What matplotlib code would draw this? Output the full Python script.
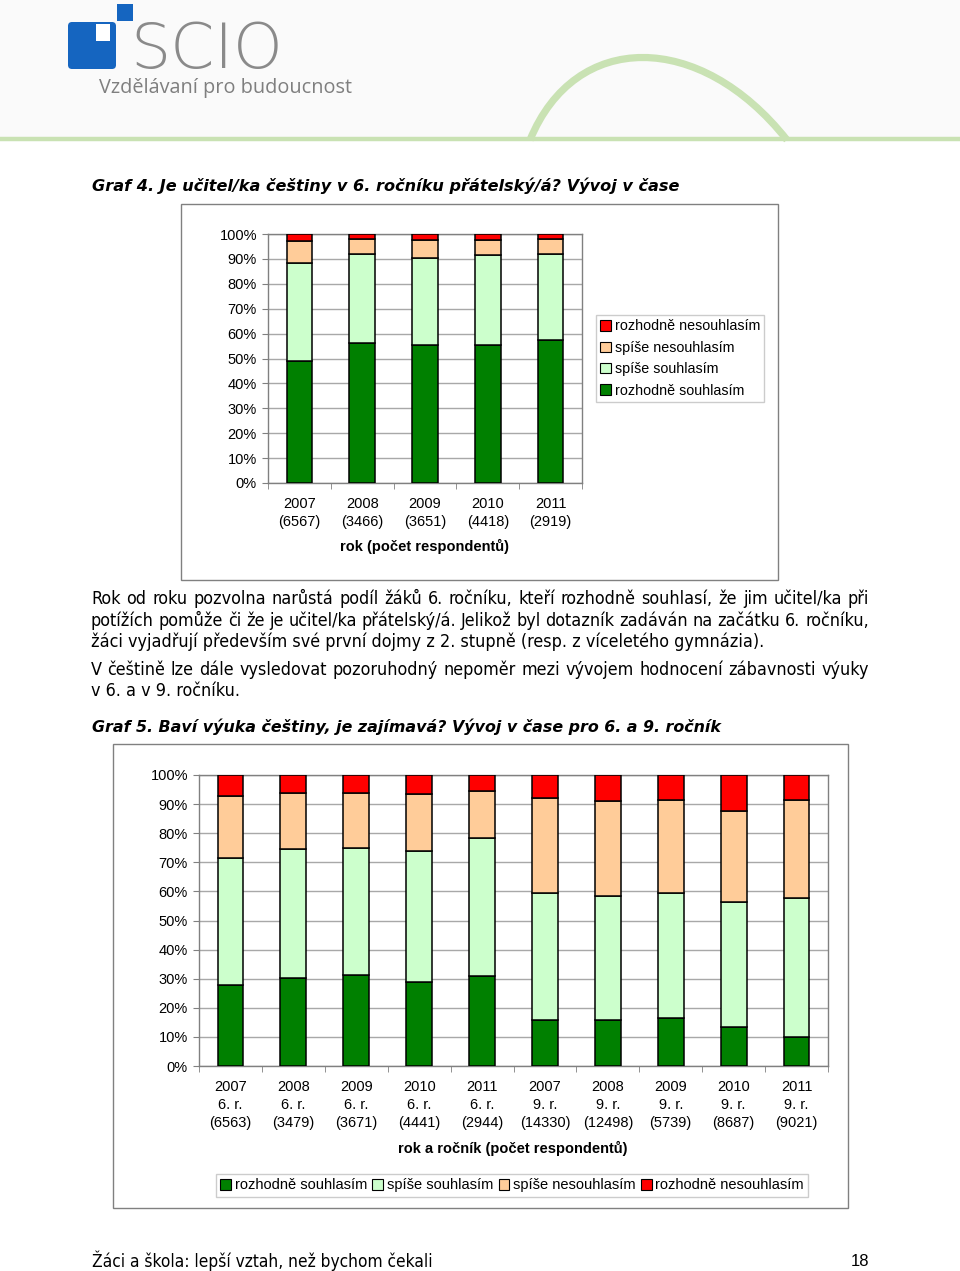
import matplotlib
matplotlib.use("Agg")
import matplotlib.pyplot as plt
from matplotlib.patches import Rectangle, FancyBboxPatch, PathPatch
from matplotlib.path import Path
import numpy as np

W, H = 960, 1271

# ---------------- data ----------------
series_names = ["rozhodně souhlasím", "spíše souhlasím", "spíše nesouhlasím", "rozhodně nesouhlasím"]
series_colors = ["#008000", "#ccffcc", "#ffcc99", "#ff0000"]

g4_years = ["2007", "2008", "2009", "2010", "2011"]
g4_counts = ["6567", "3466", "3651", "4418", "2919"]
g4_rozhodne_souhlasim = [48.9, 56.4, 55.4, 55.4, 57.6]
g4_spise_souhlasim = [39.3, 35.4, 35.1, 36.0, 34.2]
g4_spise_nesouhlasim = [9.1, 6.3, 7.2, 6.2, 6.1]
g4_rozhodne_nesouhlasim = [2.7, 1.9, 2.3, 2.4, 2.1]

g5_years = ["2007", "2008", "2009", "2010", "2011", "2007", "2008", "2009", "2010", "2011"]
g5_grades = ["6. r.", "6. r.", "6. r.", "6. r.", "6. r.", "9. r.", "9. r.", "9. r.", "9. r.", "9. r."]
g5_counts = ["6563", "3479", "3671", "4441", "2944", "14330", "12498", "5739", "8687", "9021"]
g5_rozhodne_souhlasim = [28.0, 30.4, 31.1, 28.7, 30.9, 15.8, 15.7, 16.4, 13.5, 10.0]
g5_spise_souhlasim = [43.6, 44.0, 43.8, 45.2, 47.6, 43.8, 42.6, 43.1, 43.0, 47.7]
g5_spise_nesouhlasim = [21.2, 19.5, 18.9, 19.6, 16.1, 32.4, 32.6, 31.8, 31.2, 33.7]
g5_rozhodne_nesouhlasim = [7.2, 6.1, 6.2, 6.5, 5.4, 8.0, 9.1, 8.7, 12.3, 8.6]

title4 = "Graf 4. Je učitel/ka češtiny v 6. ročníku přátelský/á? Vývoj v čase"
title5 = "Graf 5. Baví výuka češtiny, je zajímavá? Vývoj v čase pro 6. a 9. ročník"
xlabel4 = "rok (počet respondentů)"
xlabel5 = "rok a ročník (počet respondentů)"
para_lines = [
    ("Rok od roku pozvolna narůstá podíl žáků 6. ročníku, kteří rozhodně souhlasí, že jim učitel/ka při", True),
    ("potížích pomůže či že je učitel/ka přátelský/á. Jelikož byl dotazník zadáván na začátku 6. ročníku,", True),
    ("žáci vyjadřují především své první dojmy z 2. stupně (resp. z víceletého gymnázia).", False),
    ("V češtině lze dále vysledovat pozoruhodný nepoměr mezi vývojem hodnocení zábavnosti výuky", True),
    ("v 6. a v 9. ročníku.", False),
]
para_baseline = [604, 626, 647, 675, 696]
footer_text = "Žáci a škola: lepší vztah, než bychom čekali"
page_no = "18"

# ---------------- figure ----------------
fig = plt.figure(figsize=(W / 100, H / 100), dpi=100)
fig.patch.set_facecolor("white")
renderer = fig.canvas.get_renderer()

def fx(x):
    return x / W

def fy(y):
    return 1 - y / H

def rect(x0, y0, x1, y1):
    return [x0 / W, 1 - y1 / H, (x1 - x0) / W, (y1 - y0) / H]

def text_w(s, size, **kw):
    t = fig.text(0, 0, s, fontsize=size, **kw)
    w = t.get_window_extent(renderer).width
    t.remove()
    return w

def fit_text(x, y, s, target_w, size=12, ha="left", va="center", **kw):
    t = fig.text(fx(x), fy(y), s, fontsize=size, ha=ha, va=va, **kw)
    w = t.get_window_extent(renderer).width
    t.set_fontsize(size * target_w / w)
    return t

# background canvas for page decoration
bg = fig.add_axes([0, 0, 1, 1])
bg.set_xlim(0, W)
bg.set_ylim(H, 0)
bg.axis("off")
bg.add_patch(Rectangle((0, 0), W, 139, facecolor="#fafafa", edgecolor="none"))
# green line + arc
arc = Path([(530, 140), (575, 30), (700, 30), (787, 140)],
           [Path.MOVETO, Path.CURVE4, Path.CURVE4, Path.CURVE4])
bg.add_patch(PathPatch(arc, facecolor="none", edgecolor="#c9e2b3", lw=5.2))
bg.plot([0, W], [139, 139], color="#c9e2b3", lw=3.2, solid_capstyle="butt")
# logo
blue = "#1565c0"
bg.add_patch(FancyBboxPatch((68, 22), 48, 47, boxstyle="round,pad=0,rounding_size=4",
                            facecolor=blue, edgecolor="none"))
bg.add_patch(Rectangle((117, 4), 16, 17, facecolor=blue, edgecolor="none"))
bg.add_patch(Rectangle((96, 24), 14, 17, facecolor="white", edgecolor="none"))
fit_text(130, 51, "SCIO", 153, size=40, color="#8a8a8a", family="DejaVu Sans",
         fontweight="light")
fit_text(99, 88, "Vzdělávaní pro budoucnost", 254, size=14, color="#7f7f7f", family="Open Sans")

# titles
fit_text(92, 186, title4, 588, size=13, family="DejaVu Sans", fontweight="bold", style="italic")
fit_text(92, 727, title5, 629, size=13, family="DejaVu Sans", fontweight="bold", style="italic")

# paragraph with justification
para_font = dict(family="DejaVu Sans", color="black", fontstretch="condensed")
psize = 12 * 765 / text_w(para_lines[0][0], 12, **para_font)
X0, X1 = 91, 869
xw = text_w("x", psize, **para_font)
for (line, just), yy in zip(para_lines, para_baseline):
    if not just:
        fig.text(fx(X0), fy(yy), line, fontsize=psize, ha="left", va="baseline", **para_font)
        continue
    words = line.split(" ")
    natural = text_w(line, psize, **para_font)
    extra = (X1 - X0 - natural) / (len(words) - 1)
    for i, wd in enumerate(words):
        off = 0
        if i:
            prefix = " ".join(words[:i]) + " "
            off = text_w(prefix + "x", psize, **para_font) - xw
        fig.text(fx(X0 + off + i * extra), fy(yy), wd, fontsize=psize, ha="left",
                 va="baseline", **para_font)

# footer
fit_text(92, 1261, footer_text, 340, size=13, family="DejaVu Sans", fontstretch="condensed")
fig.text(fx(869), fy(1261), page_no, fontsize=12, ha="right", va="center", family="Liberation Sans")

# chart frames
bg.add_patch(Rectangle((181, 204), 597, 376, facecolor="none", edgecolor="#808080", lw=1))
bg.add_patch(Rectangle((113, 744), 735, 464, facecolor="none", edgecolor="#808080", lw=1))

cfont = "Liberation Sans"
tick_fs = 10.5

def stacked(ax, layers, n):
    x = np.arange(n)
    bottom = np.zeros(n)
    for vals, col in zip(layers, series_colors):
        vals = np.array(vals, dtype=float)
        ax.bar(x, vals, 0.41, bottom=bottom, color=col, edgecolor="black", lw=1.1, zorder=3)
        bottom += vals
    ax.set_xlim(-0.5, n - 0.5)
    ax.set_ylim(0, 100)
    ax.set_yticks(np.arange(0, 101, 10))
    ax.set_yticklabels([f"{v}%" for v in range(0, 101, 10)], fontsize=tick_fs, family=cfont)
    ax.grid(axis="y", color="#a8a8a8", lw=1, zorder=0)
    ax.set_axisbelow(True)
    for sp in ax.spines.values():
        sp.set_color("#808080")
        sp.set_linewidth(1)
    ax.tick_params(axis="y", length=4, color="#808080", pad=4)
    ax.set_xticks(np.arange(-0.5, n, 1), minor=True)
    ax.tick_params(axis="x", which="minor", length=4, color="#808080")
    ax.tick_params(axis="x", which="major", length=0, pad=10)
    ax.set_xticks(x)

# chart 1
ax1 = fig.add_axes(rect(268, 234, 582, 483))
stacked(ax1, [g4_rozhodne_souhlasim, g4_spise_souhlasim, g4_spise_nesouhlasim, g4_rozhodne_nesouhlasim], 5)
ax1.set_xticklabels([f"{y}\n({c})" for y, c in zip(g4_years, g4_counts)], fontsize=tick_fs,
                    family=cfont, linespacing=1.38)
fig.text(fx(425), fy(546), xlabel4, fontsize=tick_fs, fontweight="bold", family=cfont,
         ha="center", va="center")
h = [Rectangle((0, 0), 1, 1, facecolor=c, edgecolor="black", lw=0.8) for c in series_colors]
leg1 = fig.legend(h[::-1], series_names[::-1], loc="upper left",
                  bbox_to_anchor=(fx(596), fy(315)), frameon=True, fancybox=False,
                  prop=dict(family=cfont, size=10.3), handlelength=0.75, handleheight=0.75,
                  handletextpad=0.25, labelspacing=0.52, borderpad=0.3, borderaxespad=0)
leg1.get_frame().set_edgecolor("#c0c0c0")
leg1.get_frame().set_linewidth(1)

# chart 2
ax2 = fig.add_axes(rect(199, 775, 828, 1066))
stacked(ax2, [g5_rozhodne_souhlasim, g5_spise_souhlasim, g5_spise_nesouhlasim, g5_rozhodne_nesouhlasim], 10)
ax2.set_xticklabels([f"{y}\n{g}\n({c})" for y, g, c in zip(g5_years, g5_grades, g5_counts)],
                    fontsize=tick_fs, family=cfont, linespacing=1.38)
fig.text(fx(513), fy(1148), xlabel5, fontsize=tick_fs, fontweight="bold", family=cfont,
         ha="center", va="center")
leg2 = fig.legend(h, series_names, loc="upper left", ncol=4,
                  bbox_to_anchor=(fx(216), fy(1174)), frameon=True, fancybox=False,
                  prop=dict(family=cfont, size=10.5), handlelength=0.75, handleheight=0.75,
                  handletextpad=0.25, columnspacing=0.35, borderpad=0.3, borderaxespad=0)
leg2.get_frame().set_edgecolor("#c0c0c0")
leg2.get_frame().set_linewidth(1)

fig.savefig("out.png", dpi=100)
